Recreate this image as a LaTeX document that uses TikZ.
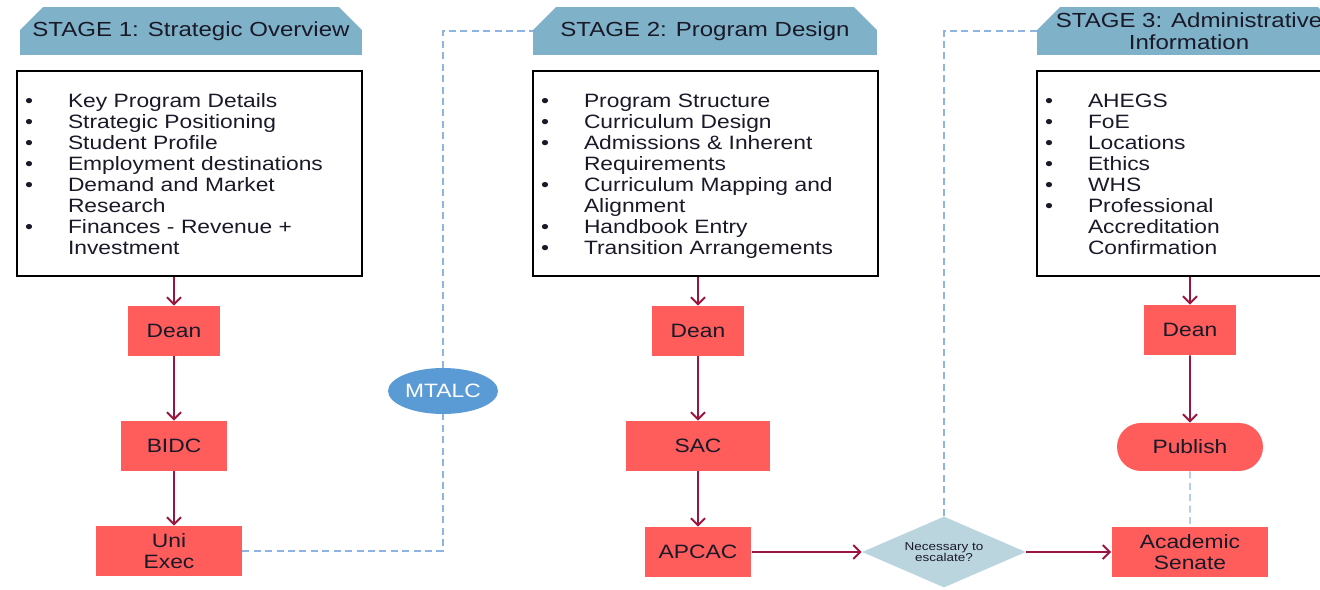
\documentclass[tikz,border=0pt]{standalone}
\usepackage{fontspec}
\setmainfont{Liberation Sans}[FakeStretch=1.18]
\usepackage{xcolor}
\usepackage{tikz}
\usetikzlibrary{shapes.misc,shapes.geometric,arrows.meta}

\definecolor{stagefill}{RGB}{127,178,200}
\definecolor{stepred}{RGB}{255,92,92}
\definecolor{flowred}{RGB}{155,22,62}
\definecolor{linkblue}{RGB}{141,180,226}
\definecolor{mtalcblue}{RGB}{91,155,213}
\definecolor{askfill}{RGB}{187,213,223}
\definecolor{inktext}{RGB}{25,25,40}

\newcommand{\bitem}[1]{\par\noindent\makebox[0.86cm][l]{\textbullet}#1}
\newcommand{\bnext}[1]{\par\noindent\makebox[0.86cm]{}#1}

\begin{document}
\begin{tikzpicture}[x=0.02cm, y=-0.02cm, node distance=2.3cm, font=\fontsize{11}{11.9}\selectfont, text=inktext]
    % Define styles
    \tikzstyle{stage} = [rectangle, minimum width=6.84cm, minimum height=0.96cm, inner sep=0pt, align=center, font=\fontsize{11.6}{12.5}\selectfont,
        path picture={\fill[stagefill] (path picture bounding box.south west) -- ([yshift=-0.46cm]path picture bounding box.north west) -- ([xshift=0.46cm]path picture bounding box.north west) -- ([xshift=-0.46cm]path picture bounding box.north east) -- ([yshift=-0.46cm]path picture bounding box.north east) -- (path picture bounding box.south east) -- cycle;}]
    \tikzstyle{listbox} = [rectangle, draw=black, line width=0.8pt, text width=6.58cm, inner xsep=0.16cm, inner ysep=0pt, minimum height=4.1cm]
    \tikzstyle{stepbox} = [rectangle, fill=stepred, minimum height=1cm, inner sep=0pt, align=center, font=\fontsize{11}{12.2}\selectfont]
    \tikzstyle{endpoint} = [rounded rectangle, fill=stepred, minimum width=2.92cm, minimum height=0.96cm, inner sep=0pt]
    \tikzstyle{committee} = [ellipse, fill=mtalcblue, text=white, minimum width=2.2cm, minimum height=0.92cm, inner sep=0pt]
    \tikzstyle{decision} = [diamond, fill=askfill, minimum width=3.28cm, minimum height=1.42cm, aspect=2.3, inner sep=0pt, align=center, font=\fontsize{6.5}{6.6}\selectfont]
    \tikzstyle{arrow} = [line width=1.1pt, draw=flowred, -{Straight Barb[length=4pt,width=8pt]}]
    \tikzstyle{link} = [draw=linkblue, line width=0.8pt, dash pattern=on 4pt off 2.5pt]

    \useasboundingbox (0,0) rectangle (1320,589);
    \clip (0,0) rectangle (1320,589);

    % Stage 1
    \node[stage] (stage1) at (191,31) {STAGE 1: Strategic Overview};
    \node[listbox] (points1) at (189.5,173.5) {\bitem{Key Program Details}\bitem{Strategic Positioning}\bitem{Student Profile}\bitem{Employment destinations}\bitem{Demand and Market}\bnext{Research}\bitem{Finances - Revenue +}\bnext{Investment}\par\kern3.4pt};
    \node[stepbox, minimum width=1.84cm] (dean1) at (174,331) {Dean};
    \node[stepbox, minimum width=2.12cm] (bidc) [below of=dean1] {BIDC};
    \node[stepbox, minimum width=2.92cm] (uniexec) [below of=bidc, node distance=2.1cm, xshift=-0.1cm] {Uni\\Exec};
    \node[committee] (mtalc) at (443,391) {MTALC};

    % Stage 2
    \node[stage, minimum width=6.88cm] (stage2) at (705,31) {STAGE 2: Program Design};
    \node[listbox] (points2) at (705.5,173.5) {\bitem{Program Structure}\bitem{Curriculum Design}\bitem{Admissions \& Inherent}\bnext{Requirements}\bitem{Curriculum Mapping and}\bnext{Alignment}\bitem{Handbook Entry}\bitem{Transition Arrangements}\par\kern1.1pt};
    \node[stepbox, minimum width=1.86cm] (dean2) at (698,331) {Dean};
    \node[stepbox, minimum width=2.9cm] (sac) [below of=dean2] {SAC};
    \node[stepbox, minimum width=2.14cm] (apcac) [below of=sac, node distance=2.12cm] {APCAC};
    \node[decision] (escalate) at (944,552) {Necessary to\\escalate?};

    % Stage 3
    \node[stage, minimum width=6.08cm] (stage3) at (1189,31) {STAGE 3: Administrative\\Information};
    \node[listbox, text width=5.76cm] (points3) at (1189,173.5) {\bitem{AHEGS}\bitem{FoE}\bitem{Locations}\bitem{Ethics}\bitem{WHS}\bitem{Professional}\bnext{Accreditation}\bnext{Confirmation}\par\kern3.4pt};
    \node[stepbox, minimum width=1.84cm] (dean3) at (1190,330) {Dean};
    \node[endpoint] (publish) [below of=dean3, node distance=2.34cm] {Publish};
    \node[stepbox, minimum width=3.14cm] (senate) at (1190,552) {Academic\\Senate};

    % Arrows
    \draw[arrow] (dean1 |- points1.south) -- (dean1);
    \draw[arrow] (dean1) -- (bidc);
    \draw[arrow] (bidc) -- (bidc |- uniexec.north);
    \draw[arrow] (dean2 |- points2.south) -- (dean2);
    \draw[arrow] (dean2) -- (sac);
    \draw[arrow] (sac) -- (apcac);
    \draw[arrow] (apcac) -- (escalate);
    \draw[arrow] (escalate) -- (senate);
    \draw[arrow] (dean3 |- points3.south) -- (dean3);
    \draw[arrow] (dean3) -- (publish);

    % Dashed links
    \draw[link] (uniexec) -- (uniexec -| mtalc) -- (mtalc);
    \draw[link] (mtalc) -- (mtalc |- stage2.west) -- (stage2);
    \draw[link] (escalate) -- (escalate |- stage3.west) -- (stage3);
    \draw[link] (publish) -- (senate);
\end{tikzpicture}
\end{document}
